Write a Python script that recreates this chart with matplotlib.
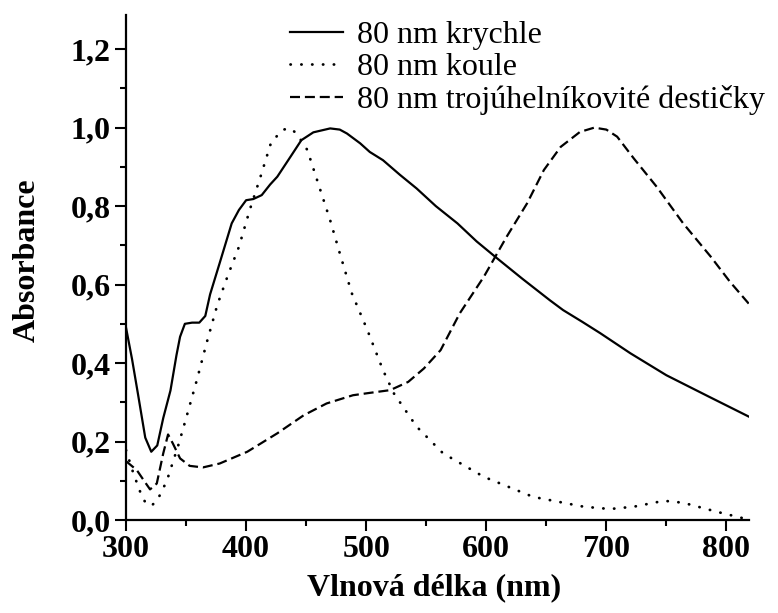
import numpy as np
import matplotlib
matplotlib.use('Agg')
import matplotlib.pyplot as plt

plt.rcParams['font.family'] = ['Liberation Serif', 'DejaVu Serif']

# 80 nm krychle (solid)
x_cube = [300, 305, 310, 316, 321, 326, 331, 337, 342, 345, 349, 355, 361, 366, 370, 378,
          388, 394, 400, 406, 413, 420, 426, 437, 446, 456, 470, 478, 484, 495, 503, 514,
          528, 542, 558, 576, 592, 609, 630, 653, 664, 680, 695, 720, 750, 785, 819]
y_cube = [0.49, 0.41, 0.32, 0.21, 0.174, 0.19, 0.26, 0.33, 0.42, 0.467, 0.50, 0.503, 0.503, 0.52, 0.575, 0.655,
          0.756, 0.79, 0.815, 0.818, 0.828, 0.855, 0.875, 0.926, 0.968, 0.988, 0.998, 0.995, 0.985, 0.96, 0.938, 0.917,
          0.88, 0.845, 0.80, 0.756, 0.71, 0.667, 0.615, 0.56, 0.535, 0.505, 0.476, 0.425, 0.369, 0.315, 0.263]

# 80 nm koule (dotted)
x_sphere = [300, 306, 312, 316, 321, 326, 334, 344, 351, 359, 367, 376, 385, 394, 403, 412,
            421, 431, 437, 442, 451, 460, 470, 478, 488, 501, 514, 523, 542, 564, 598, 639,
            681, 703, 723, 748, 764, 792, 812, 816]
y_sphere = [0.178, 0.12, 0.07, 0.045, 0.036, 0.05, 0.10, 0.195, 0.27, 0.357, 0.45, 0.548, 0.625, 0.696, 0.79, 0.875,
            0.964, 0.995, 0.998, 0.985, 0.943, 0.858, 0.764, 0.68, 0.578, 0.484, 0.382, 0.323, 0.238, 0.17, 0.11, 0.059,
            0.034, 0.028, 0.034, 0.049, 0.044, 0.021, 0.006, 0.003]

# 80 nm trojuhelnikovite desticky (dashed)
x_tri = [300, 309, 315, 320, 325.6, 331, 335, 339, 345, 353, 364, 378, 401, 426, 448, 467,
         489, 503, 520, 535, 548, 562, 578, 598, 617, 634, 648, 662, 678, 690, 700, 709,
         723, 742, 764, 787, 803, 819]
y_tri = [0.15, 0.127, 0.10, 0.078, 0.093, 0.17, 0.218, 0.195, 0.157, 0.138, 0.134, 0.144, 0.174, 0.221, 0.267, 0.297,
         0.318, 0.324, 0.331, 0.352, 0.386, 0.433, 0.527, 0.62, 0.722, 0.807, 0.892, 0.951, 0.989, 1.0, 0.995, 0.977,
         0.921, 0.849, 0.756, 0.671, 0.607, 0.55]

labels = ['80 nm krychle', '80 nm koule', '80 nm trojúhelníkovité destičky']
x_ticks = [300, 400, 500, 600, 700, 800]
y_ticks = [0.0, 0.2, 0.4, 0.6, 0.8, 1.0, 1.2]
y_tick_labels = ['0,0', '0,2', '0,4', '0,6', '0,8', '1,0', '1,2']

fig = plt.figure(figsize=(7.78, 6.13), dpi=100)
ax = fig.add_axes([0.162, 0.1517, 0.801, 0.8238])

ax.plot(x_cube, y_cube, color='black', linewidth=1.6, linestyle='-', label=labels[0])
ax.plot(x_sphere, y_sphere, color='black', linewidth=2.0, linestyle=(0, (0.1, 3.8)),
        dash_capstyle='round', label=labels[1])
ax.plot(x_tri, y_tri, color='black', linewidth=1.6, linestyle=(0, (4.5, 2.2)), label=labels[2])

ax.set_xlim(300, 819)
ax.set_ylim(0, 1.287)
ax.spines['top'].set_visible(False)
ax.spines['right'].set_visible(False)
for s in ['left', 'bottom']:
    ax.spines[s].set_linewidth(1.6)

ax.set_xticks(x_ticks)
ax.set_xticklabels([str(v) for v in x_ticks], fontsize=23, fontweight='bold')
ax.set_xticks(np.arange(350, 820, 100), minor=True)
ax.set_yticks(y_ticks)
ax.set_yticklabels(y_tick_labels, fontsize=23, fontweight='bold')
ax.set_yticks(np.arange(0.1, 1.3, 0.2), minor=True)
ax.tick_params(which='major', direction='out', length=8, width=1.5, pad=3)
ax.tick_params(which='minor', direction='out', length=4, width=1.5)

ax.set_xlabel('Vlnová délka (nm)', fontsize=23, fontweight='bold')
ax.set_ylabel('Absorbance', fontsize=23, fontweight='bold')
ax.xaxis.set_label_coords(0.494, -0.105)
ax.yaxis.set_label_coords(-0.135, 0.515)

leg = ax.legend(loc='upper left', bbox_to_anchor=(290 / 778, 1 - 21 / 613),
                bbox_transform=fig.transFigure, frameon=False, fontsize=23,
                handlelength=1.65, handletextpad=0.45, labelspacing=0.08,
                borderpad=0, borderaxespad=0)

plt.savefig('out.png', dpi=100)
